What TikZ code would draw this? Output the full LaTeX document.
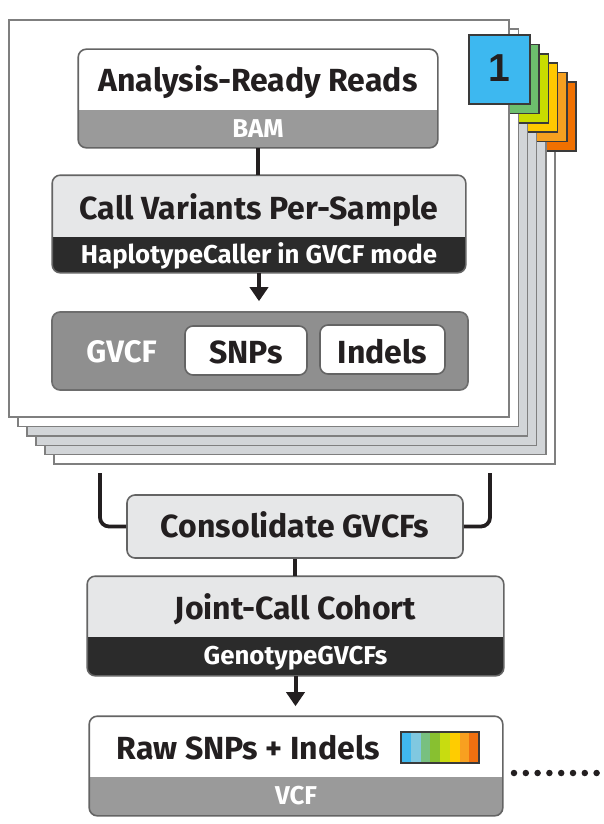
\documentclass[tikz,border=0pt]{standalone}
\usepackage{fontspec}
\setmainfont{Fira Sans}
\newfontfamily\digitfont{Liberation Sans}
\usetikzlibrary{arrows.meta}
\definecolor{ink}{HTML}{231F20}
\definecolor{pageline}{HTML}{7F7F7F}
\definecolor{pagefill}{HTML}{D2D5D8}
\definecolor{tabline}{HTML}{3A3A3A}
\definecolor{tabA}{HTML}{3DB8F0}
\definecolor{tabB}{HTML}{6DBF6D}
\definecolor{tabC}{HTML}{C8DC00}
\definecolor{tabD}{HTML}{FFC800}
\definecolor{tabE}{HTML}{F5A020}
\definecolor{tabF}{HTML}{F07000}
\definecolor{boxline}{HTML}{646464}
\definecolor{lightfill}{HTML}{E6E7E8}
\definecolor{bandgray}{HTML}{9A9A9A}
\definecolor{banddark}{HTML}{2B2B2B}
\definecolor{gvcffill}{HTML}{8F8F8F}
\definecolor{cbA}{HTML}{40B8EE}
\definecolor{cbB}{HTML}{80C8E0}
\definecolor{cbC}{HTML}{78C080}
\definecolor{cbD}{HTML}{88C030}
\definecolor{cbE}{HTML}{C8DC10}
\definecolor{cbF}{HTML}{FFCC00}
\definecolor{cbG}{HTML}{F8A020}
\definecolor{cbH}{HTML}{F07010}
\tikzset{
  pageframe/.style={draw=pageline, line width=1.4pt},
  tabbox/.style={draw=tabline, line width=1.6pt},
  boxnode/.style={rectangle, rounded corners=8pt, inner sep=0pt, line width=1.6pt},
  boxborder/.style={draw=boxline, line width=1.6pt, rounded corners=8pt},
  titletext/.style={font=\bfseries\fontsize{32}{32}\selectfont, text=ink, anchor=base, inner sep=0pt},
  bandtext/.style={font=\bfseries\fontsize{25.8}{26}\selectfont, text=white, anchor=base, inner sep=0pt},
  conn/.style={line width=4pt, draw=ink},
  arrowconn/.style={conn, -{Triangle[width=18pt,length=14pt]}, shorten >=10pt},
  bracket/.style={line width=3.8pt, draw=ink, rounded corners=9pt},
  dotline/.style={line width=6.5pt, draw=ink, line cap=round, dash pattern=on 0pt off 11.8pt},
}
\begin{document}
\begin{tikzpicture}[x=1pt,y=-1pt]
\useasboundingbox (0,0) rectangle (603,824);
\fill[white] (0,0) rectangle (603,824);
% stack of pages with tabs
\foreach \k/\pf/\tc in {5/white/tabF,4/pagefill/tabE,3/pagefill/tabD,2/pagefill/tabC,1/white/tabB,0/white/tabA}{
  \draw[pageframe, fill=\pf] ({9+9*\k},{20+9.2*\k}) rectangle ({509+9.2*\k},{417+9.4*\k});
  \draw[tabbox, fill=\tc] ({469+9.2*\k},{35+9.4*\k}) rectangle ({530+9.2*\k},{104+9.4*\k});
}
\node[text=ink, inner sep=0pt] (tabnum) at (499.5,68.5) {\digitfont\bfseries\fontsize{39}{39}\selectfont 1};
% Analysis-Ready Reads
\node[boxnode, fill=white, minimum width=358pt, minimum height=97pt] (arr) at (258,98.5) {};
\begin{scope}
  \clip[rounded corners=8pt] (arr.north west) rectangle (arr.south east);
  \fill[bandgray] (79,110) rectangle (437,147);
\end{scope}
\draw[boxborder] (arr.north west) rectangle (arr.south east);
\node[titletext] (arrt) at (258,92) {Analysis-Ready Reads};
\node[bandtext] (arrb) at (258,137) {BAM};
% Call Variants Per-Sample
\node[boxnode, fill=lightfill, minimum width=412pt, minimum height=96pt] (cv) at (259,224) {};
\begin{scope}
  \clip[rounded corners=8pt] (cv.north west) rectangle (cv.south east);
  \fill[banddark] (53,237) rectangle (465,272);
\end{scope}
\draw[boxborder] (cv.north west) rectangle (cv.south east);
\node[titletext] (cvt) at (259,219) {Call Variants Per-Sample};
\node[bandtext] (cvb) at (259,263) {HaplotypeCaller in GVCF mode};
% GVCF
\node[boxnode, fill=gvcffill, draw=boxline!80!gvcffill, minimum width=416pt, minimum height=78pt] (gvcf) at (260,351) {};
\node[bandtext, font=\bfseries\fontsize{31}{31}\selectfont] (gvcft) at (121.5,362) {GVCF};
\node[boxnode, fill=white, draw=boxline, minimum width=122pt, minimum height=49pt] (snps) at (246,350.5) {};
\node[titletext] (snpst) at (246,363) {SNPs};
\node[boxnode, fill=white, draw=boxline, minimum width=125pt, minimum height=49pt] (indels) at (382.5,349.5) {};
\node[titletext] (indelst) at (382.5,363) {Indels};
% connectors in the page
\draw[conn] (arr.south) -- (arr.south |- cv.north);
\draw[arrowconn] (cv.south) -- (cv.south |- gvcf.north);
% Consolidate
\node[boxnode, fill=lightfill, draw=boxline, minimum width=336pt, minimum height=63pt] (cons) at (295,526.5) {};
\node[titletext] (const) at (295,537.5) {Consolidate GVCFs};
\coordinate (bl) at (100,473);
\coordinate (br) at (490,473);
\draw[bracket] (bl) |- (cons.west);
\draw[bracket] (br) |- (cons.east);
% Joint-Call Cohort
\node[boxnode, fill=lightfill, minimum width=415pt, minimum height=98pt] (joint) at (295.5,626) {};
\begin{scope}
  \clip[rounded corners=8pt] (joint.north west) rectangle (joint.south east);
  \fill[banddark] (88,637) rectangle (503,675);
\end{scope}
\draw[boxborder] (joint.north west) rectangle (joint.south east);
\node[titletext] (jointt) at (295.5,619) {Joint-Call Cohort};
\node[bandtext] (jointb) at (295.5,664) {GenotypeGVCFs};
\draw[conn] (cons.south) -- (cons.south |- joint.north);
% Raw SNPs + Indels
\node[boxnode, fill=white, minimum width=412pt, minimum height=98pt] (raw) at (296,766) {};
\begin{scope}
  \clip[rounded corners=8pt] (raw.north west) rectangle (raw.south east);
  \fill[bandgray] (90,777) rectangle (502,815);
\end{scope}
\draw[boxborder] (raw.north west) rectangle (raw.south east);
\node[titletext] (rawt) at (248.5,759) {Raw SNPs + Indels};
\node[bandtext] (rawb) at (296,804) {VCF};
\draw[arrowconn] (joint.south) -- (joint.south |- raw.north);
% colour bar
\foreach \c [count=\i from 0] in {cbA,cbB,cbC,cbD,cbE,cbF,cbG,cbH}{
  \fill[\c] ({401+9.75*\i},732) rectangle ({401+9.75*(\i+1)},763);
}
\node[draw=tabline, line width=1.3pt, minimum width=78pt, minimum height=31pt, inner sep=0pt] (colorbar) at (440,747.5) {};
% dotted continuation
\coordinate (dotA) at (514,773);
\coordinate (dotB) at (597,773);
\draw[dotline] (dotA) -- (dotB);
\end{tikzpicture}
\end{document}
